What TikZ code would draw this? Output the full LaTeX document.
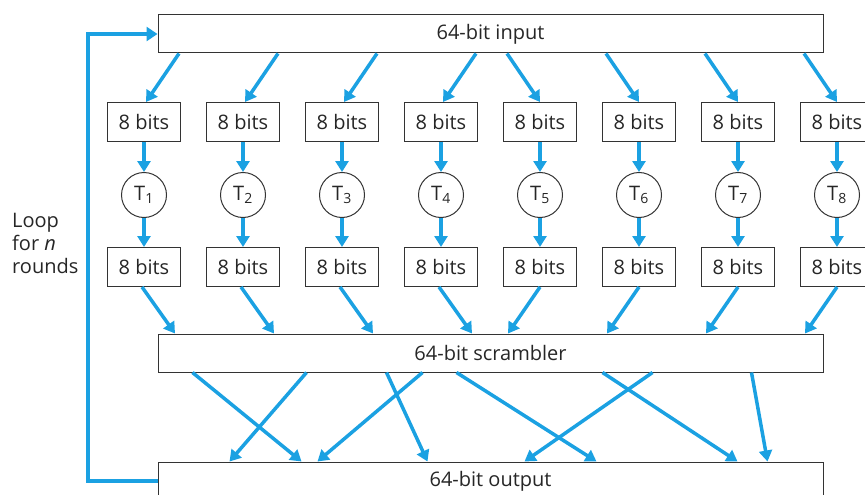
\documentclass[tikz,border=0pt]{standalone}
\usepackage{fontspec}
\setmainfont{Open Sans}
\usetikzlibrary{arrows.meta,calc}
\definecolor{flow}{RGB}{27,161,226}
\begin{document}
\begin{tikzpicture}[x=1pt,y=-1pt,
  txt/.style={font=\fontsize{20}{23}\selectfont,text=black!85},
  box/.style={draw=black!80,line width=1pt,inner sep=0pt,txt},
  bitbox/.style={box,minimum width=73pt,minimum height=39pt},
  wide/.style={box,minimum width=665pt,minimum height=38pt},
  tnode/.style={circle,draw=black!80,line width=1pt,minimum size=45pt,inner sep=0pt,txt},
  arr/.style={draw=flow,line width=3.5pt,-{Triangle[length=11pt,width=13pt]}},
  loopline/.style={draw=flow,line width=4pt,-{Triangle[length=11pt,width=14pt]}},
  lbl/.style={anchor=base west,inner sep=0pt,txt}]
\useasboundingbox (0,0) rectangle (865,495);
\node[wide] (in) at (490.5,34) {64-bit input};
\node[wide] (scr) at (490.5,353) {64-bit scrambler};
\node[wide] (out) at (490.5,481) {64-bit output};
\foreach \i in {1,...,8} {
  \pgfmathsetmacro\xx{144+99*(\i-1)}
  \node[bitbox] (a\i) at (\xx,122) {8 bits};
  \node[tnode] (t\i) at (\xx,195) {T\textsubscript{\i}};
  \node[bitbox] (b\i) at (\xx,267) {8 bits};
  \draw[arr] (a\i) -- (t\i);
  \draw[arr] (t\i) -- (b\i);
}
\foreach \i in {1,...,4} {
  \draw[arr] ([xshift=35pt]a\i.north |- in.south) -- ([xshift=2pt]a\i.north);
  \draw[arr] ([xshift=-2pt]b\i.south) -- ([xshift=31pt]b\i.south |- scr.north);
}
\foreach \i in {5,...,8} {
  \draw[arr] ([xshift=-33pt]a\i.north |- in.south) -- (a\i.north);
  \draw[arr] (b\i.south) -- ([xshift=-32pt]b\i.south |- scr.north);
}
\foreach \s/\e in {35/144,149/72,229/270,265/160,299/439,445/580,495/367,594/610}
  \draw[arr] ([xshift=\s pt]scr.south west) -- ([xshift=\e pt]out.north west);
\coordinate (lp) at (88,34);
\draw[loopline] (out.west) -| (lp) -- (in.west);
\node[lbl] (l1) at (12,227) {Loop};
\node[lbl] (l2) at (12,250) {for \textit{n}};
\node[lbl] (l3) at (12,273) {rounds};
\end{tikzpicture}
\end{document}
